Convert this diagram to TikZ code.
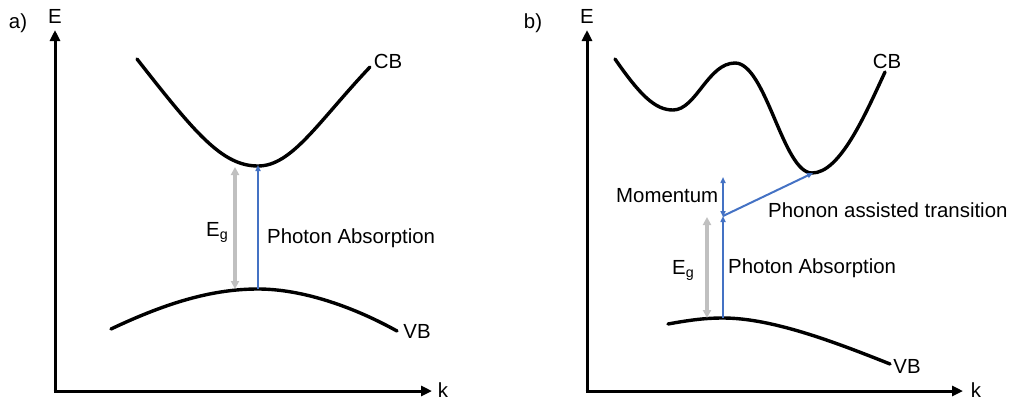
\documentclass[tikz,border=0pt]{standalone}
\usepackage{fontspec}
\setmainfont{Liberation Sans}
\usetikzlibrary{arrows.meta}
\definecolor{blueline}{HTML}{4472C4}
\definecolor{greyline}{HTML}{C0C0C0}
\tikzset{
  axis/.style={line width=3pt,-{Triangle[length=11pt,width=10pt]}},
  band/.style={line width=3.4pt,line cap=round},
  blue arrow/.style={blueline,line width=2pt,-{Triangle[length=6pt,width=5pt]}},
  blue double/.style={blueline,line width=2pt,{Triangle[length=6pt,width=5pt]}-{Triangle[length=6pt,width=5pt]}},
  grey double/.style={greyline,line width=3.5pt,{Triangle[length=8pt,width=8pt]}-{Triangle[length=8pt,width=8pt]}},
  lbl/.style={inner sep=0pt,font=\fontsize{20.4}{24}\selectfont},
}
\begin{document}
\begin{tikzpicture}[x=1pt,y=-1pt]
\useasboundingbox (0,0) rectangle (1011,400);
% ---------- panel a ----------
\coordinate (aO) at (55,391);
\coordinate (aY) at (55,30);
\coordinate (aX) at (432,391);
\draw[axis] ([yshift=-1.5pt]aO) -- (aY);
\draw[axis] ([xshift=-1.5pt]aO) -- (aX);
\node[lbl,anchor=base] (alab) at (18,28) {a)};
\node[lbl,anchor=base] (aE) at (55,23) {E};
\node[lbl,anchor=base] (ak) at (443,397) {k};
\coordinate (aCBmin) at (258,166);
\coordinate (aVBmax) at (258,289);
\draw[band] (137,59) .. controls (195,133) and (222,166) .. (aCBmin)
            .. controls (292,166) and (318,122) .. (370,67);
\draw[band] (111,329) .. controls (170,301) and (215,289) .. (aVBmax)
            .. controls (300,289) and (350,305) .. (397,331);
\node[lbl,anchor=base] (aCB) at (388,68) {CB};
\node[lbl,anchor=base] (aVB) at (417,338) {VB};
\coordinate (aG1) at (235,167);
\coordinate (aG2) at (235,289);
\draw[grey double] (aG1) -- (aG2);
\draw[blue arrow] (aVBmax) -- ([yshift=1pt]aCBmin);
\node[lbl,anchor=base west] (aEg) at (206,236) {E\textsubscript{g}};
\node[lbl,anchor=base west] (aPA) at (267,243) {Photon Absorption};
% ---------- panel b ----------
\coordinate (bO) at (587,391);
\coordinate (bY) at (587,30);
\coordinate (bX) at (963,391);
\draw[axis] ([yshift=-1.5pt]bO) -- (bY);
\draw[axis] ([xshift=-1.5pt]bO) -- (bX);
\node[lbl,anchor=base] (blab) at (533,28) {b)};
\node[lbl,anchor=base] (bE) at (587,23) {E};
\node[lbl,anchor=base] (bk) at (976,397) {k};
\coordinate (bCBmin) at (812,173);
\coordinate (bVBmax) at (723,318);
\draw[band] (615,59) .. controls (640,95) and (655,110) .. (673,110)
            .. controls (696,110) and (708,63) .. (735,63)
            .. controls (766,63) and (783,173) .. (bCBmin)
            .. controls (840,173) and (865,115) .. (885,72);
\draw[band] (668,324) .. controls (690,320) and (705,318) .. (bVBmax)
            .. controls (770,318) and (830,340) .. (890,364);
\node[lbl,anchor=base] (bCB) at (887,68) {CB};
\node[lbl,anchor=base] (bVB) at (907,373) {VB};
\coordinate (bMid) at (723,216);
\coordinate (bTop) at (723,177);
\coordinate (bG1) at (707,217);
\coordinate (bG2) at (707,318);
\draw[grey double] (bG1) -- (bG2);
\draw[blue arrow] (bVBmax) -- (bMid);
\draw[blue double] ([yshift=-1pt]bMid) -- (bTop);
\draw[blue arrow] (bMid) -- ([xshift=1pt]bCBmin);
\node[lbl,anchor=base west] (bMom) at (616,202) {Momentum};
\node[lbl,anchor=base west] (bPh) at (768,217) {Phonon assisted transition};
\node[lbl,anchor=base west] (bEg) at (672,274) {E\textsubscript{g}};
\node[lbl,anchor=base west] (bPA) at (728,273) {Photon Absorption};
\end{tikzpicture}
\end{document}
